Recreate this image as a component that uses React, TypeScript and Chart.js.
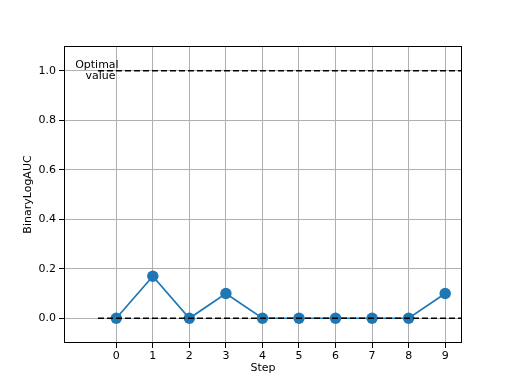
import React, { useEffect, useRef } from "react";
import { Chart, registerables } from "chart.js";

Chart.register(...registerables);

const steps = [0, 1, 2, 3, 4, 5, 6, 7, 8, 9];
const values = [0, 0.17, 0, 0.1, 0, 0, 0, 0, 0, 0.1];
const xTickValues = [0, 1, 2, 3, 4, 5, 6, 7, 8, 9];
const yTickValues = [0, 0.2, 0.4, 0.6, 0.8, 1.0];
const optimalLines = [1.0, 0.0];
const optimalSpan = [-0.5, 9.5];
const annotationLines = ["Optimal", "value"];
const xLabel = "Step";
const yLabel = "BinaryLogAUC";

const FONT = "'DejaVu Sans', sans-serif";

const overlayPlugin = {
  id: "overlay",
  afterDatasetsDraw(chart: any) {
    const { ctx, scales } = chart;
    const xs = scales.x;
    const ys = scales.y;
    ctx.save();
    ctx.font = `11px ${FONT}`;
    ctx.fillStyle = "#000";
    ctx.textAlign = "center";
    ctx.textBaseline = "middle";
    const yc = ys.getPixelForValue(1.0);
    ctx.fillText(annotationLines[0], xs.getPixelForValue(-0.53), yc - 6);
    ctx.fillText(annotationLines[1], xs.getPixelForValue(-0.43), yc + 5);
    ctx.restore();
  },
  afterDraw(chart: any) {
    const { ctx, chartArea } = chart;
    const l = Math.round(chartArea.left);
    const t = Math.round(chartArea.top);
    const r = Math.round(chartArea.right);
    const b = Math.round(chartArea.bottom);
    ctx.save();
    ctx.strokeStyle = "#000";
    ctx.lineWidth = 1;
    ctx.strokeRect(l + 0.5, t + 0.5, r - l - 1, b - t - 1);
    ctx.font = `11px ${FONT}`;
    ctx.fillStyle = "#000";
    ctx.textAlign = "center";
    ctx.textBaseline = "middle";
    ctx.fillText(xLabel, (chartArea.left + chartArea.right) / 2, 368);
    ctx.translate(28, (chartArea.top + chartArea.bottom) / 2);
    ctx.rotate(-Math.PI / 2);
    ctx.fillText(yLabel, 0, 0);
    ctx.restore();
  },
};

export default function App() {
  const ref = useRef<HTMLCanvasElement>(null);
  useEffect(() => {
    if (!ref.current) return;
    const chart = new Chart(ref.current, {
      type: "line",
      data: {
        datasets: [
          ...optimalLines.map((v) => ({
            data: optimalSpan.map((x) => ({ x, y: v })),
            borderColor: "#000",
            borderWidth: 1.7,
            borderDash: [6, 3],
            pointRadius: 0,
            order: 0,
          })),
          {
            data: steps.map((s, i) => ({ x: s, y: values[i] })),
            borderColor: "#1f77b4",
            backgroundColor: "#1f77b4",
            borderWidth: 1.7,
            pointRadius: 5.7,
            pointBorderWidth: 0,
            pointBackgroundColor: "#1f77b4",
            tension: 0,
            order: 1,
          },
        ],
      },
      options: {
        animation: false,
        responsive: false,
        maintainAspectRatio: false,
        layout: { padding: { left: 0, right: 50, top: 46, bottom: 0 } },
        plugins: { legend: { display: false }, tooltip: { enabled: false } },
        scales: {
          x: {
            type: "linear",
            min: -1.43,
            max: 9.46,
            afterBuildTicks: (s: any) => {
              s.ticks = xTickValues.map((v) => ({ value: v }));
            },
            afterFit: (s: any) => {
              s.height = 41;
            },
            grid: {
              color: "#b0b0b0",
              lineWidth: 1,
              drawTicks: true,
              tickLength: 5,
              tickColor: "#000",
            },
            border: { display: false },
            ticks: {
              color: "#000",
              font: { family: FONT, size: 11 },
              padding: 2,
              maxRotation: 0,
              callback: (v: any) => String(v),
            },
          },
          y: {
            type: "linear",
            min: -0.1,
            max: 1.1,
            afterBuildTicks: (s: any) => {
              s.ticks = yTickValues.map((v) => ({ value: v }));
            },
            afterFit: (s: any) => {
              s.width = 64;
            },
            grid: {
              color: "#b0b0b0",
              lineWidth: 1,
              drawTicks: true,
              tickLength: 5,
              tickColor: "#000",
            },
            border: { display: false },
            ticks: {
              color: "#000",
              font: { family: FONT, size: 11 },
              padding: 3,
              callback: (v: any) => Number(v).toFixed(1),
            },
          },
        },
      },
      plugins: [overlayPlugin],
    });
    return () => chart.destroy();
  }, []);
  return (
    <div style={{ position: "fixed", left: 0, top: 0, width: 512, height: 384, background: "#fff" }}>
      <canvas ref={ref} width={512} height={384} style={{ width: 512, height: 384 }} />
    </div>
  );
}
